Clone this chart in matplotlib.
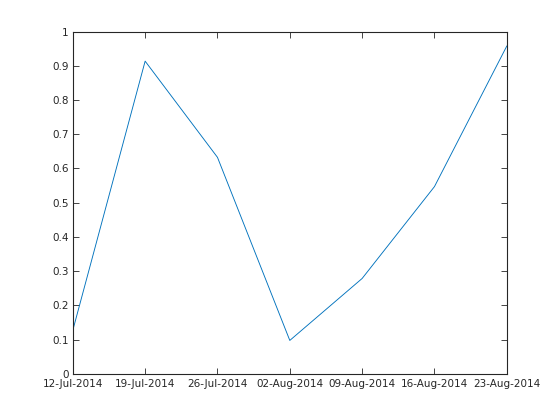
import datetime as dt
import matplotlib
matplotlib.use("Agg")
import matplotlib.pyplot as plt
import matplotlib.dates as mdates

# data
dates = [dt.date(2014, 7, 12), dt.date(2014, 7, 19), dt.date(2014, 7, 26),
         dt.date(2014, 8, 2), dt.date(2014, 8, 9), dt.date(2014, 8, 16),
         dt.date(2014, 8, 23)]
values = [0.1270, 0.9134, 0.6324, 0.0975, 0.2785, 0.5469, 0.9575]
yticks = [0, 0.1, 0.2, 0.3, 0.4, 0.5, 0.6, 0.7, 0.8, 0.9, 1]
ytick_labels = ["0", "0.1", "0.2", "0.3", "0.4", "0.5", "0.6", "0.7", "0.8", "0.9", "1"]

txt = (0.15, 0.15, 0.15)

fig = plt.figure(figsize=(5.6, 4.2), dpi=100)
ax = fig.add_axes([0.13, 0.11, 0.775, 0.815])
ax.plot(dates, values, color="#0072BD", linewidth=0.65)

ax.set_xlim(dates[0], dates[-1])
ax.set_ylim(0, 1)
ax.set_xticks(dates)
ax.xaxis.set_major_formatter(mdates.DateFormatter("%d-%b-%Y"))
ax.set_yticks(yticks)
ax.set_yticklabels(ytick_labels)

ax.tick_params(direction="in", length=4, width=0.6, colors=txt,
               labelsize=7.5, top=True, right=True, pad=3)
ax.tick_params(axis="x", pad=4)
for s in ax.spines.values():
    s.set_color(txt)
    s.set_linewidth(0.8)

fig.savefig("out.png", dpi=100)
